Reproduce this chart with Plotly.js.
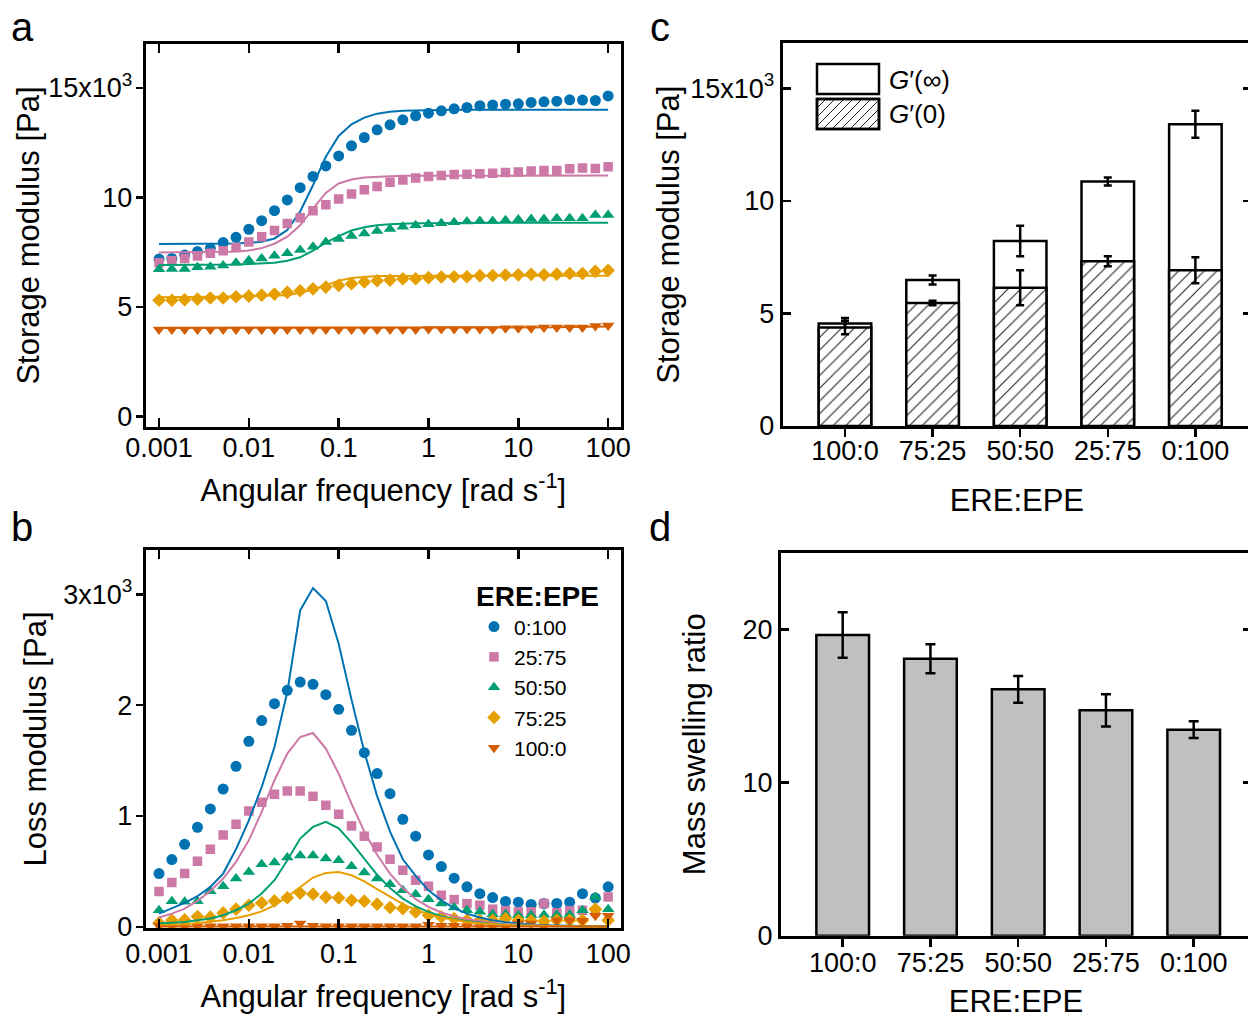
<!DOCTYPE html>
<html>
<head>
<meta charset="utf-8">
<script src="https://cdn.plot.ly/plotly-3.0.1.min.js"></script>
<style>
html,body{margin:0;padding:0;overflow:hidden;background:#fff;}
#chart{width:1252px;height:1019px;}
</style>
</head>
<body>
<div id="chart"></div>
<script>
// ---------- DATA ----------
const freq = [0.001,0.00139,0.00193,0.00268,0.00373,0.00518,0.0072,0.01,0.0139,0.0193,0.0268,0.0373,0.0518,0.072,0.1,0.139,0.193,0.268,0.373,0.518,0.72,1,1.39,1.93,2.68,3.73,5.18,7.2,10,13.9,19.3,26.8,37.3,51.8,72,100];
const freqTicks = [0.001,0.01,0.1,1,10,100];
const freqTickText = ['0.001','0.01','0.1','1','10','100'];
const seriesNames = ['0:100','25:75','50:50','75:25','100:0'];

// Storage modulus G' [Pa] (panel a)
const storage_0_100  = [7180,7210,7360,7520,7670,7930,8170,8540,8930,9390,9880,10440,10950,11430,11890,12350,12730,13080,13310,13540,13720,13840,13950,14040,14100,14180,14210,14250,14270,14330,14360,14390,14450,14440,14420,14630];
const storage_25_75  = [7010,7100,7210,7320,7440,7560,7710,7960,8200,8480,8800,9070,9380,9660,9920,10150,10340,10490,10690,10790,10880,10950,10990,11040,11050,11080,11100,11130,11160,11200,11220,11220,11300,11340,11310,11400];
const storage_50_50  = [6710,6720,6720,6800,6830,6890,7010,7130,7210,7330,7440,7590,7740,7960,8090,8230,8350,8460,8550,8660,8720,8770,8810,8860,8890,8920,8920,8950,8990,9010,9010,9040,9040,9040,9190,9190];
const storage_75_25  = [5300,5300,5320,5350,5400,5400,5460,5490,5530,5580,5660,5730,5820,5900,5980,6050,6130,6190,6220,6280,6280,6330,6360,6370,6370,6420,6430,6450,6460,6480,6460,6490,6520,6520,6620,6660];
const storage_100_0  = [3960,3960,3960,3960,3960,3960,3960,3960,3960,3960,3960,3960,3960,3960,3960,3960,3960,3960,3960,3960,3960,3990,3990,3990,3990,3990,3990,4020,4020,4020,4050,4050,4050,4050,4120,4150];
// Fitted G' curves
const storageFit_0_100 = [7870,7870,7870,7870,7870,7880,7890,7920,7970,8120,8500,9350,10550,11850,12800,13330,13640,13820,13910,13950,13970,13980,13990,14000,14000,14000,14000,14000,14000,14000,14000,14000,14000,14000,14000,14000];
const storageFit_25_75 = [7480,7480,7480,7490,7500,7510,7530,7570,7680,7880,8200,8720,9480,10200,10630,10810,10900,10940,10960,10980,10980,10990,10990,10990,10990,10990,10990,10990,10990,10990,10990,10990,10990,10990,10990,10990];
const storageFit_50_50 = [6910,6910,6910,6910,6920,6920,6930,6950,6980,7010,7100,7260,7560,7930,8230,8480,8630,8720,8770,8800,8810,8820,8830,8830,8840,8840,8840,8840,8840,8840,8840,8840,8840,8840,8840,8840];
const storageFit_75_25 = [5440,5440,5440,5450,5450,5460,5470,5480,5500,5510,5530,5640,5790,5990,6190,6310,6370,6400,6410,6420,6420,6420,6420,6420,6420,6420,6420,6420,6420,6420,6420,6420,6420,6420,6420,6420];
const storageFit_100_0 = [4030,4030,4030,4030,4030,4030,4030,4030,4030,4030,4030,4030,4030,4030,4030,4030,4030,4030,4030,4030,4040,4040,4040,4040,4040,4040,4040,4040,4060,4060,4060,4060,4080,4090,4100,4100];

// Loss modulus G'' [Pa] (panel b)
const loss_0_100  = [481,607,745,899,1064,1244,1449,1674,1861,2014,2134,2209,2188,2095,1963,1773,1572,1383,1202,971,818,649,544,439,361,300,265,229,223,202,210,211,223,300,260,361];
const loss_25_75  = [319,400,481,592,700,830,926,1046,1124,1196,1226,1226,1178,1097,1016,911,818,721,610,511,421,367,286,246,210,196,160,145,136,136,211,127,145,150,140,270];
const loss_50_50  = [150,232,226,232,322,367,436,496,565,580,625,643,643,616,601,547,490,436,385,331,295,250,210,175,150,136,115,115,106,106,110,110,110,150,270,160];
const loss_75_25  = [36,60,63,93,88,126,160,195,216,234,263,305,295,268,262,240,232,205,175,165,135,105,90,75,60,58,60,75,60,55,50,60,60,60,160,60];
const loss_100_0  = [10,5,5,5,5,5,5,5,5,5,10,30,10,5,5,5,5,5,5,5,5,20,10,10,5,0,0,0,30,30,0,60,60,55,100,100];
// Fitted G'' curves
const lossFit_0_100 = [120,165,216,277,361,481,700,960,1260,1623,2119,2855,3057,2940,2555,2050,1580,1180,860,610,460,330,240,170,120,85,60,42,30,21,15,11,8,6,5,4];
const lossFit_25_75 = [85,120,165,234,325,436,586,781,1037,1323,1563,1713,1749,1608,1383,1112,860,650,480,350,250,180,130,95,70,50,36,26,19,14,10,8,6,5,4,4];
const lossFit_50_50 = [30,36,45,60,75,105,150,210,301,421,601,797,902,947,890,760,610,470,350,255,185,135,97,70,50,36,26,19,14,10,8,6,5,4,4,4];
const lossFit_75_25 = [15,18,22,35,45,60,80,105,140,195,271,361,445,487,496,466,410,340,270,205,155,115,85,62,45,33,24,18,13,10,7,6,5,4,4,3];
const lossFit_100_0 = [3,3,3,3,3,3,3,3,3,3,3,3,3,3,3,3,3,3,3,3,3,3,3,3,3,3,3,3,3,3,3,3,3,3,3,3];

// Panel c: plateau moduli [Pa]
const ratioCats = ['100:0','75:25','50:50','25:75','0:100'];
const gInf    = [4550,6490,8220,10860,13400];
const gInfErr = [250,200,680,180,600];
const gZero    = [4380,5460,6140,7320,6920];
const gZeroErr = [300,100,780,220,580];

// Panel d: mass swelling ratio
const swelling    = [19.63,18.08,16.08,14.71,13.45];
const swellingErr = [1.48,0.95,0.87,1.05,0.55];

// ---------- STYLE / LAYOUT ----------
const W = 1252, H = 1019;
const px = x => x / W;
const py = y => 1 - y / H;
const FONT = 'Liberation Sans, Arial, Helvetica, sans-serif';
const colors = ['#0072B2','#CC79A7','#009E73','#E69F00','#D55E00'];
const symbols = ['circle','square','triangle-up','diamond','triangle-down'];
const sizes = [11,9.5,11,10.5,11];

const storageSeries = [storage_0_100, storage_25_75, storage_50_50, storage_75_25, storage_100_0];
const storageFits = [storageFit_0_100, storageFit_25_75, storageFit_50_50, storageFit_75_25, storageFit_100_0];
const lossSeries = [loss_0_100, loss_25_75, loss_50_50, loss_75_25, loss_100_0];
const lossFits = [lossFit_0_100, lossFit_25_75, lossFit_50_50, lossFit_75_25, lossFit_100_0];

const traces = [];
for (let i = 0; i < 5; i++) {
  traces.push({x: freq, y: storageSeries[i], xaxis:'x', yaxis:'y', type:'scatter', mode:'markers',
    marker:{symbol:symbols[i], size:sizes[i], color:colors[i]}, showlegend:false, name:seriesNames[i]});
  traces.push({x: freq, y: storageFits[i], xaxis:'x', yaxis:'y', type:'scatter', mode:'lines',
    line:{color:colors[i], width:2}, showlegend:false, name:seriesNames[i]+' fit'});
}
for (let i = 0; i < 5; i++) {
  traces.push({x: freq, y: lossSeries[i], xaxis:'x2', yaxis:'y2', type:'scatter', mode:'markers',
    marker:{symbol:symbols[i], size:sizes[i], color:colors[i]}, showlegend:true, name:seriesNames[i]});
}
for (let i = 0; i < 5; i++) {
  traces.push({x: freq, y: lossFits[i], xaxis:'x2', yaxis:'y2', type:'scatter', mode:'lines',
    line:{color:colors[i], width:2}, showlegend:false, name:seriesNames[i]+' fit'});
}
// Panel c
traces.push({x: ratioCats, y: gInf, xaxis:'x3', yaxis:'y3', type:'bar', width:0.6, showlegend:false, name:"G'(∞)",
  marker:{color:'white', line:{color:'black', width:2.5}},
  error_y:{type:'data', array:gInfErr, color:'black', thickness:2.5, width:4}});
traces.push({x: ratioCats, y: gZero, xaxis:'x3', yaxis:'y3', type:'bar', width:0.6, showlegend:false, name:"G'(0)",
  marker:{color:'white', line:{color:'black', width:2.5},
    pattern:{shape:'/', fgcolor:'#222', bgcolor:'white', size:9, solidity:0.12}},
  error_y:{type:'data', array:gZeroErr, color:'black', thickness:2.5, width:4}});
// Panel d
traces.push({x: ratioCats, y: swelling, xaxis:'x4', yaxis:'y4', type:'bar', width:0.6, showlegend:false, name:'Mass swelling ratio',
  marker:{color:'#C0C0C0', line:{color:'black', width:2.5}},
  error_y:{type:'data', array:swellingErr, color:'black', thickness:2.5, width:5}});

const tickFont = {family:FONT, size:27, color:'black'};
const titleFont = {family:FONT, size:31, color:'black'};
const common = {showgrid:false, zeroline:false, showline:true, linecolor:'black', linewidth:3,
  tickcolor:'black', tickwidth:2.5, tickfont:tickFont};

const domAB_x = [px(145.7), px(621)];
const domA_y = [py(427), py(44)];
const domB_y = [py(928), py(550)];
const domC_x = [px(782.7), px(1251)];
const domC_y = [py(426), py(43.3)];
const domD_x = [px(781), px(1251)];
const domD_y = [py(935.7), py(552.7)];

const gTickVals = [0,5000,10000,15000];
const gTickText = ['0','5','10','15x10<sup>3</sup>'];
const lTickVals = [0,1000,2000,3000];
const lTickText = ['0','1','2','3x10<sup>3</sup>'];

const freqAxis = (domain, anchor, labelShift, standoff) => Object.assign({}, common, {
  type:'log', domain:domain, anchor:anchor, range:[-3.148, 2.143], autorange:false,
  tickmode:'array', tickvals:freqTicks, ticktext:freqTickText,
  ticks:'inside', ticklen:9, mirror:'ticks', ticklabelstandoff:labelShift,
  title:{text:'Angular frequency [rad s<sup>-1</sup>]', font:titleFont, standoff:standoff}
});

const layout = {
  width: W, height: H,
  margin:{l:0, r:0, t:0, b:0},
  paper_bgcolor:'white', plot_bgcolor:'white',
  font:{family:FONT, color:'black'},
  barmode:'overlay',
  xaxis: freqAxis(domAB_x, 'y', -5, 17),
  yaxis: Object.assign({}, common, {domain:domA_y, anchor:'x', range:[-490,17000], autorange:false,
    tickmode:'array', tickvals:gTickVals, ticktext:gTickText, ticks:'outside', ticklen:7, mirror:true,
    ticklabelstandoff:-2,
    title:{text:'Storage modulus [Pa]', font:titleFont, standoff:0}}),
  yaxis5: {overlaying:'y', anchor:'x', side:'right', range:[-490,17000], autorange:false,
    tickmode:'array', tickvals:gTickVals, ticks:'inside', ticklen:8, tickwidth:2.5, tickcolor:'black',
    showticklabels:false, showline:false, showgrid:false, zeroline:false},
  xaxis2: freqAxis(domAB_x, 'y2', 0, 17),
  yaxis2: Object.assign({}, common, {domain:domB_y, anchor:'x2', range:[-10,3400], autorange:false,
    tickmode:'array', tickvals:lTickVals, ticktext:lTickText, ticks:'outside', ticklen:7, mirror:true,
    ticklabelstandoff:-2,
    title:{text:'Loss modulus [Pa]', font:titleFont, standoff:8}}),
  yaxis6: {overlaying:'y2', anchor:'x2', side:'right', range:[-10,3400], autorange:false,
    tickmode:'array', tickvals:lTickVals, ticks:'inside', ticklen:8, tickwidth:2.5, tickcolor:'black',
    showticklabels:false, showline:false, showgrid:false, zeroline:false},
  xaxis3: Object.assign({}, common, {domain:domC_x, anchor:'y3', type:'category', range:[-0.711, 4.635], autorange:false,
    ticks:'outside', ticklen:8, mirror:true, ticklabelstandoff:-9,
    title:{text:'ERE:EPE', font:titleFont, standoff:24}}),
  yaxis3: Object.assign({}, common, {domain:domC_y, anchor:'x3', range:[0,17000], autorange:false,
    tickmode:'array', tickvals:gTickVals, ticktext:gTickText, ticks:'inside', ticklen:8, mirror:'ticks',
    title:{text:'Storage modulus [Pa]', font:titleFont, standoff:2}}),
  xaxis4: Object.assign({}, common, {domain:domD_x, anchor:'y4', type:'category', range:[-0.703, 4.653], autorange:false,
    ticks:'outside', ticklen:8, mirror:true, ticklabelstandoff:-7,
    title:{text:'ERE:EPE', font:titleFont, standoff:29}}),
  yaxis4: Object.assign({}, common, {domain:domD_y, anchor:'x4', range:[0,25], autorange:false,
    tickmode:'array', tickvals:[0,10,20], ticktext:['0','10','20'], ticks:'inside', ticklen:8, mirror:'ticks',
    title:{text:'Mass swelling ratio', font:titleFont, standoff:28}}),
  legend:{x:px(474), xanchor:'left', y:py(570), yanchor:'top', bgcolor:'rgba(0,0,0,0)',
    font:{family:FONT, size:21, color:'black'}, tracegroupgap:0, itemwidth:30,
    title:{text:'<b>ERE:EPE</b>', font:{family:FONT, size:28, color:'black'}}},
  annotations:[
    {text:'a', x:px(22), y:py(27), xref:'paper', yref:'paper', showarrow:false, xanchor:'center', yanchor:'middle', font:{family:FONT, size:40}},
    {text:'b', x:px(22), y:py(527), xref:'paper', yref:'paper', showarrow:false, xanchor:'center', yanchor:'middle', font:{family:FONT, size:40}},
    {text:'c', x:px(660), y:py(27), xref:'paper', yref:'paper', showarrow:false, xanchor:'center', yanchor:'middle', font:{family:FONT, size:40}},
    {text:'d', x:px(660), y:py(527), xref:'paper', yref:'paper', showarrow:false, xanchor:'center', yanchor:'middle', font:{family:FONT, size:40}},
    {text:'<i>G</i>′(∞)', x:px(887), y:py(80), xref:'paper', yref:'paper', showarrow:false, xanchor:'left', yanchor:'middle', font:{family:FONT, size:26}},
    {text:'<i>G</i>′(0)', x:px(887), y:py(114), xref:'paper', yref:'paper', showarrow:false, xanchor:'left', yanchor:'middle', font:{family:FONT, size:26}}
  ],
  shapes:[]
};

// Legend swatches for panel c (drawn as layout decoration)
const sw1 = {x0:817, x1:879, y0:64, y1:94};
const sw2 = {x0:817, x1:879, y0:99, y1:129};
[sw1, sw2].forEach(s => layout.shapes.push({type:'rect', xref:'paper', yref:'paper',
  x0:px(s.x0), x1:px(s.x1), y0:py(s.y1), y1:py(s.y0), fillcolor:'white', line:{color:'black', width:2.5}}));
(function hatch(s, step){
  const w = s.x1 - s.x0, h = s.y1 - s.y0;
  for (let c = -h; c < w; c += step) {
    const t0 = Math.max(0, -c), t1 = Math.min(h, w - c);
    if (t1 <= t0) continue;
    layout.shapes.push({type:'line', xref:'paper', yref:'paper',
      x0:px(s.x0 + c + t0), y0:py(s.y1 - t0), x1:px(s.x0 + c + t1), y1:py(s.y1 - t1),
      line:{color:'#222', width:1}});
  }
})(sw2, 9);
layout.shapes.push({type:'rect', xref:'paper', yref:'paper',
  x0:px(sw2.x0), x1:px(sw2.x1), y0:py(sw2.y1), y1:py(sw2.y0), line:{color:'black', width:2.5}});

Plotly.newPlot('chart', traces, layout, {displayModeBar:false, staticPlot:true});
</script>
</body>
</html>
